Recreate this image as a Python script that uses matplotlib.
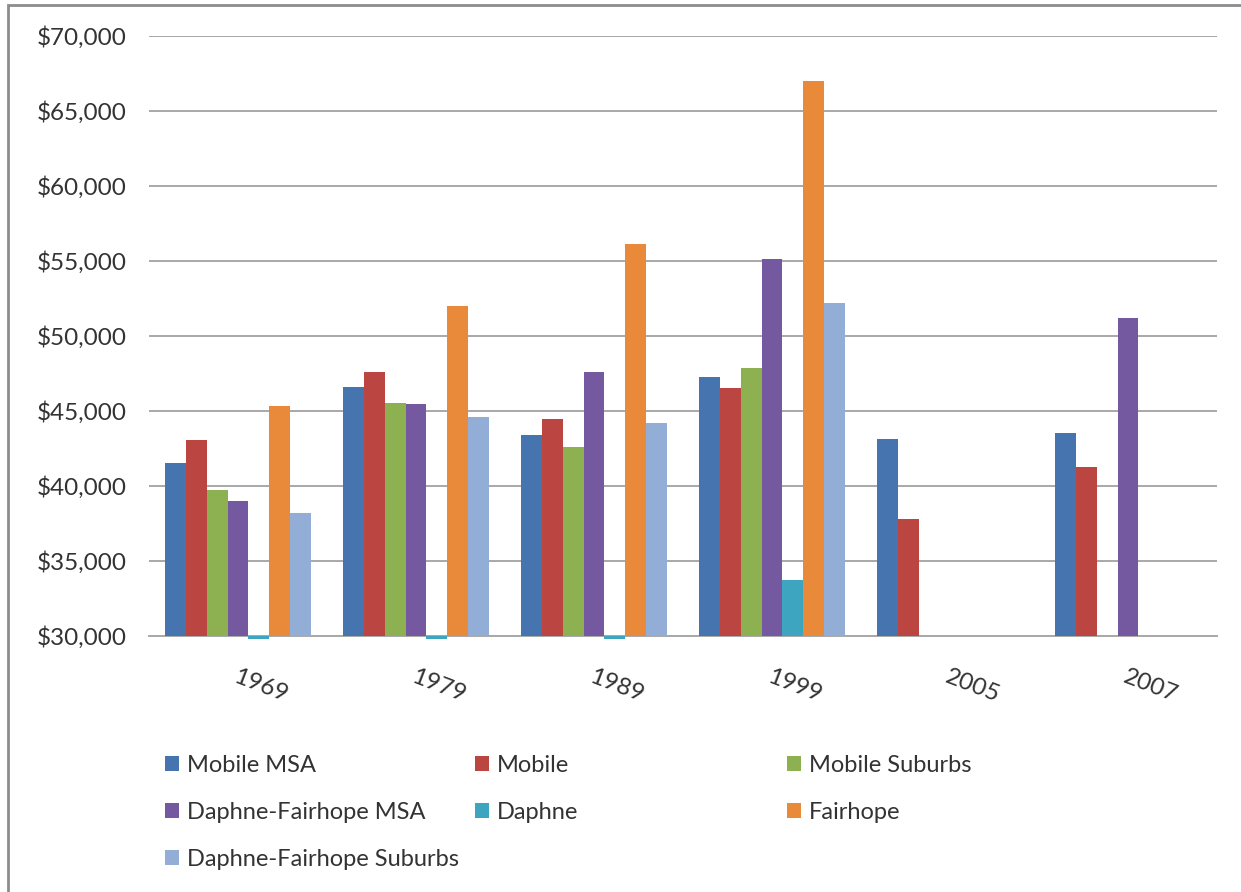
import numpy as np
import matplotlib
matplotlib.use("Agg")
import matplotlib.pyplot as plt
from matplotlib.patches import Patch, Rectangle
from matplotlib.ticker import FuncFormatter

plt.rcParams['font.family'] = ['Lato', 'DejaVu Sans']

years = ['1969', '1979', '1989', '1999', '2005', '2007']
series_names = ['Mobile MSA', 'Mobile', 'Mobile Suburbs', 'Daphne-Fairhope MSA',
                'Daphne', 'Fairhope', 'Daphne-Fairhope Suburbs']
nan = np.nan
mobile_msa = [41550, 46620, 43400, 47270, 43130, 43510]
mobile = [43070, 47620, 44440, 46510, 37780, 41290]
mobile_suburbs = [39730, 45510, 42620, 47870, nan, nan]
df_msa = [39020, 45440, 47580, 55130, nan, 51180]
daphne = [29820, 29820, 29780, 33750, nan, nan]
fairhope = [45330, 52000, 56110, 67000, nan, nan]
df_suburbs = [38200, 44580, 44180, 52200, nan, nan]

series = [mobile_msa, mobile, mobile_suburbs, df_msa, daphne, fairhope, df_suburbs]
colors = ['#4674AE', '#BA4541', '#8DB050', '#7459A0', '#3DA5BF', '#E98A3A', '#93AED6']

base = 30000
fig = plt.figure(figsize=(12.41, 8.92), dpi=100)
ax = fig.add_axes([149/1241, 1 - 636/892, (1217 - 149)/1241, 600/892])

x = np.arange(len(years))
w = 1 / 8.5
for j, (vals, c) in enumerate(zip(series, colors)):
    v = np.array(vals, dtype=float)
    ok = ~np.isnan(v)
    ax.bar(x[ok] + (j - 3) * w, v[ok] - base, bottom=base, width=w,
           color=c, clip_on=False, zorder=3)

ax.set_xlim(-0.5, len(years) - 0.5)
ax.set_ylim(30000, 70000)
ax.set_yticks(np.arange(30000, 70001, 5000))
ax.yaxis.set_major_formatter(FuncFormatter(lambda v, p: f"${v:,.0f}"))
ax.grid(axis='y', color='#A8A8A8', lw=1.4, zorder=1)
for s in ['top', 'right', 'left']:
    ax.spines[s].set_visible(False)
ax.spines['bottom'].set_color('#A8A8A8')
ax.spines['bottom'].set_linewidth(1.4)
ax.tick_params(axis='y', length=0, pad=16, labelsize=17.5, labelcolor='#333333')
ax.tick_params(axis='x', length=0, pad=22, labelsize=17.5, labelcolor='#333333')
ax.set_xticks(x)
ax.set_xticklabels(years, rotation=-21, ha='left', va='top', rotation_mode='anchor')

# legend, three columns laid out like the Excel one
handles = [Patch(facecolor=c, edgecolor='none') for c in colors]
col_x = [165/1241, 475/1241, 787/1241]
for k in range(3):
    idx = list(range(k, len(series_names), 3))
    leg = fig.legend([handles[i] for i in idx], [series_names[i] for i in idx],
                     loc='upper left', bbox_to_anchor=(col_x[k], 1 - 755/892),
                     frameon=False, fontsize=17, borderpad=0, borderaxespad=0,
                     handlelength=0.58, handleheight=0.58, handletextpad=0.35,
                     labelspacing=1.1)
    for t in leg.get_texts():
        t.set_color('#333333')

fig.add_artist(Rectangle((8/1241, -0.1), 1.2, 1.1 - 5/892, transform=fig.transFigure,
                         fill=False, edgecolor='#8C8C8C', lw=2))

fig.savefig('out.png', dpi=100)
